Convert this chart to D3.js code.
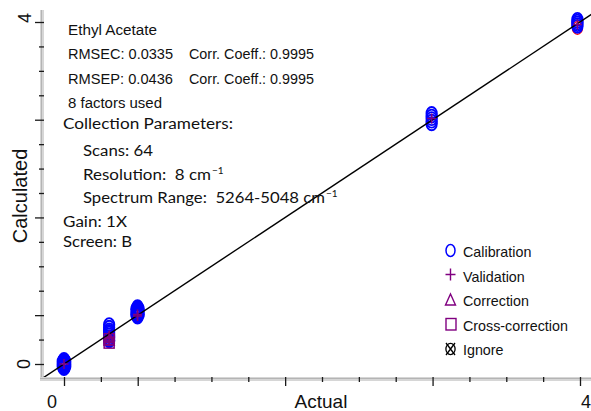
<!DOCTYPE html>
<html>
<head>
<meta charset="utf-8">
<script src="https://cdn.jsdelivr.net/npm/d3@7/dist/d3.min.js"></script>
<style>
  html, body { margin: 0; padding: 0; background: #fff; }
  svg { display: block; }
  text { white-space: pre; }
</style>
</head>
<body>
<svg id="chart" width="591" height="411"></svg>
<script>
// Ethyl Acetate calibration: actual vs calculated concentration
const axisDomain = [0, 4];
const axisTickLabels = ["0", "4"];
const minorTickCount = 14;            // divisions between 0 and 4
const majorTickIndex = [0, 2, 6, 10, 14];

// Calibration samples (blue circles)
const calActual = [
  0, 0, 0, 0, 0, 0, 0, 0, 0, 0, 0, 0, 0, 0.01, -0.01, 0.01, -0.01, 0.01, -0.01,
  0.35, 0.35, 0.35, 0.35, 0.35, 0.35, 0.35, 0.35, 0.35, 0.35,
  0.57, 0.57, 0.57, 0.57, 0.57, 0.57, 0.57, 0.57, 0.57, 0.57, 0.57, 0.57, 0.57, 0.58, 0.56, 0.58, 0.56,
  2.85, 2.85, 2.85, 2.85, 2.85,
  3.98, 3.98, 3.98, 3.98, 3.98
];
const calCalculated = [
  -0.055, -0.045, -0.035, -0.025, -0.015, -0.005, 0.005, 0.015, 0.025, 0.035, 0.045, 0.055, 0.0, -0.03, -0.03, 0.03, 0.03, 0.0, 0.0,
  0.46, 0.43, 0.40, 0.38, 0.36, 0.34, 0.32, 0.30, 0.28, 0.27,
  0.55, 0.56, 0.57, 0.58, 0.59, 0.60, 0.61, 0.62, 0.63, 0.64, 0.65, 0.66, 0.67, 0.58, 0.58, 0.64, 0.64,
  2.81, 2.84, 2.87, 2.90, 2.93,
  3.95, 3.97, 3.99, 4.01, 4.03
];
// Highlighted samples (red circles)
const redActual = [3.98];
const redCalculated = [3.93];
// Validation samples (purple plus)
const valActual = [0, 0.35, 0.35, 0.57, 0.57, 2.85, 3.98];
const valCalculated = [0.0, 0.30, 0.27, 0.58, 0.56, 2.87, 3.97];
// Correction samples (purple triangles)
const corActual = [0.35, 0.35];
const corCalculated = [0.28, 0.31];
// Cross-correction samples (purple squares)
const xcorActual = [0.35, 0.35];
const xcorCalculated = [0.25, 0.29];

const legendItems = ["Calibration", "Validation", "Correction", "Cross-correction", "Ignore"];
const statLines = ["Ethyl Acetate", "RMSEC: 0.0335", "RMSEP: 0.0436", "8 factors used"];
const coeffLines = ["Corr. Coeff.: 0.9995", "Corr. Coeff.: 0.9995"];

const BLUE = "#0000ff", PURPLE = "#800080", RED = "#ff0000";

const svg = d3.select("#chart");
const x = d3.scaleLinear().domain(axisDomain).range([64, 580]);
const y = d3.scaleLinear().domain(axisDomain).range([364, 22]);

const allTicks = d3.range(minorTickCount + 1).map(i => axisDomain[0] + i * (axisDomain[1] - axisDomain[0]) / minorTickCount);
const majorTicks = majorTickIndex.map(i => allTicks[i]);
const minorTicks = allTicks.filter((t, i) => !majorTickIndex.includes(i));

// axis bars
svg.append("rect").attr("x", 40).attr("y", 10).attr("width", 4).attr("height", 371).attr("fill", "#d6d6d6");
svg.append("line").attr("x1", 41.5).attr("x2", 41.5).attr("y1", 10).attr("y2", 380).attr("stroke", "#b4b4b4").attr("stroke-width", 1);
svg.append("rect").attr("x", 40).attr("y", 377).attr("width", 551).attr("height", 4).attr("fill", "#d6d6d6");
svg.append("line").attr("x1", 40).attr("x2", 591).attr("y1", 378.5).attr("y2", 378.5).attr("stroke", "#b4b4b4").attr("stroke-width", 1);

function styleAxis(g) {
  g.select(".domain").remove();
  g.selectAll(".tick text").remove();
  g.selectAll(".tick line").attr("stroke", "#1a1a1a").attr("stroke-width", 1.3);
}
svg.append("g").attr("transform", "translate(44,0)")
  .call(d3.axisLeft(y).tickValues(majorTicks).tickSize(9)).call(styleAxis);
svg.append("g").attr("transform", "translate(44,0)")
  .call(d3.axisLeft(y).tickValues(minorTicks).tickSize(5)).call(styleAxis);
svg.append("g").attr("transform", "translate(0,377)")
  .call(d3.axisBottom(x).tickValues(majorTicks).tickSize(9)).call(styleAxis);
svg.append("g").attr("transform", "translate(0,377)")
  .call(d3.axisBottom(x).tickValues(minorTicks).tickSize(5)).call(styleAxis);

// tick labels at the ends of each axis
const tickFont = "'Liberation Sans', Arial, sans-serif";
svg.append("text").text(axisTickLabels[0]).attr("x", x(axisDomain[0]) - 7).attr("y", 408)
  .attr("text-anchor", "end").attr("font-family", tickFont).attr("font-size", 18).attr("fill", "#111");
svg.append("text").text(axisTickLabels[1]).attr("x", 591).attr("y", 408)
  .attr("text-anchor", "end").attr("font-family", tickFont).attr("font-size", 18).attr("fill", "#111");
svg.append("text").text(axisTickLabels[0])
  .attr("transform", `translate(30,${y(axisDomain[0])}) rotate(-90)`)
  .attr("text-anchor", "middle").attr("font-family", tickFont).attr("font-size", 18).attr("fill", "#111");
svg.append("text").text(axisTickLabels[1])
  .attr("transform", `translate(31,${y(axisDomain[1]) + 1}) rotate(-90)`)
  .attr("text-anchor", "start").attr("font-family", tickFont).attr("font-size", 18).attr("fill", "#111");

// axis titles
svg.append("text").text("Actual").attr("x", 321).attr("y", 408).attr("text-anchor", "middle")
  .attr("font-family", tickFont).attr("font-size", 19).attr("fill", "#111");
svg.append("text").text("Calculated")
  .attr("transform", "translate(27,196) rotate(-90)")
  .attr("text-anchor", "middle").attr("font-family", tickFont).attr("font-size", 20).attr("fill", "#111");

// plot area clip for the 1:1 line
svg.append("clipPath").attr("id", "plotClip")
  .append("rect").attr("x", 40).attr("y", 0).attr("width", 551).attr("height", 377);

const plot = svg.append("g");

function zip(a, b) { return a.map((v, i) => ({ a: v, c: b[i] })); }

// highlighted circles underneath the calibration set
plot.selectAll("ellipse.red").data(zip(redActual, redCalculated)).join("ellipse")
  .attr("class", "red")
  .attr("cx", d => x(d.a)).attr("cy", d => y(d.c))
  .attr("rx", 5).attr("ry", 6.3)
  .attr("fill", "none").attr("stroke", RED).attr("stroke-width", 1.3);
// calibration circles
plot.selectAll("ellipse.cal").data(zip(calActual, calCalculated)).join("ellipse")
  .attr("class", "cal")
  .attr("cx", d => x(d.a)).attr("cy", d => y(d.c))
  .attr("rx", 5.2).attr("ry", 6.5)
  .attr("fill", "none").attr("stroke", BLUE).attr("stroke-width", 1.8);

// cross-correction squares
plot.selectAll("rect.xcor").data(zip(xcorActual, xcorCalculated)).join("rect")
  .attr("class", "xcor")
  .attr("x", d => x(d.a) - 5).attr("y", d => y(d.c) - 5.5)
  .attr("width", 10).attr("height", 11)
  .attr("fill", "none").attr("stroke", PURPLE).attr("stroke-width", 1.5);
// correction triangles
plot.selectAll("path.cor").data(zip(corActual, corCalculated)).join("path")
  .attr("class", "cor")
  .attr("d", d => `M${x(d.a)},${y(d.c) - 6}L${x(d.a) + 5},${y(d.c) + 5}L${x(d.a) - 5},${y(d.c) + 5}Z`)
  .attr("fill", "none").attr("stroke", PURPLE).attr("stroke-width", 1.5);

// 1:1 line
plot.append("line")
  .attr("clip-path", "url(#plotClip)")
  .attr("x1", x(-0.3)).attr("y1", y(-0.3))
  .attr("x2", x(4.2)).attr("y2", y(4.2))
  .attr("stroke", "#000").attr("stroke-width", 1.4);

// validation plus signs
plot.selectAll("path.val").data(zip(valActual, valCalculated)).join("path")
  .attr("class", "val")
  .attr("d", d => `M${x(d.a) - 4.5},${y(d.c)}H${x(d.a) + 4.5}M${x(d.a)},${y(d.c) - 5}V${y(d.c) + 5}`)
  .attr("fill", "none").attr("stroke", PURPLE).attr("stroke-width", 1.5);

// statistics block
const statFont = "'Liberation Sans', Arial, sans-serif";
const statY = [35, 59, 83.5, 108];
const statW = [89, 105, 105, 94];
statLines.forEach((t, i) => {
  svg.append("text").text(t).attr("x", 68).attr("y", statY[i])
    .attr("font-family", statFont).attr("font-size", 14).attr("fill", "#111")
    .attr("textLength", statW[i]).attr("lengthAdjust", "spacingAndGlyphs");
});
coeffLines.forEach((t, i) => {
  svg.append("text").text(t).attr("x", 189).attr("y", statY[i + 1])
    .attr("font-family", statFont).attr("font-size", 14).attr("fill", "#111")
    .attr("textLength", 125).attr("lengthAdjust", "spacingAndGlyphs");
});

// collection parameters block
const paramFont = "Lato, 'Open Sans', sans-serif";
const params = [
  { t: "Collection Parameters:", x: 63, y: 129, w: 170 },
  { t: "Scans: 64", x: 83, y: 156, w: 70 },
  { t: "Resolution:  8 cm", sup: "−1", x: 83, y: 180, w: 128 },
  { t: "Spectrum Range:  5264-5048 cm", sup: "−1", x: 83, y: 203, w: 242 },
  { t: "Gain: 1X", x: 63, y: 226.5, w: 64 },
  { t: "Screen: B", x: 63, y: 247, w: 69 }
];
params.forEach(p => {
  const txt = svg.append("text").attr("x", p.x).attr("y", p.y)
    .attr("font-family", paramFont).attr("font-size", 15.5).attr("fill", "#111");
  txt.append("tspan").text(p.t).attr("textLength", p.w).attr("lengthAdjust", "spacingAndGlyphs");
  if (p.sup) {
    txt.append("tspan").text(p.sup).attr("font-size", 10).attr("dy", -6).attr("dx", 1);
  }
});

// legend
const legX = 450.5, legText = 463;
const legBase = [257, 281.5, 306, 331, 355];
const legendG = svg.append("g");
legendItems.forEach((t, i) => {
  legendG.append("text").text(t).attr("x", legText).attr("y", legBase[i])
    .attr("font-family", statFont).attr("font-size", 14.3).attr("fill", "#111");
});
legendG.append("ellipse").attr("cx", legX).attr("cy", legBase[0] - 6.5).attr("rx", 4.5).attr("ry", 6)
  .attr("fill", "none").attr("stroke", BLUE).attr("stroke-width", 1.5);
legendG.append("path")
  .attr("d", `M${legX - 5},${legBase[1] - 7}H${legX + 5}M${legX},${legBase[1] - 13}V${legBase[1] - 1}`)
  .attr("fill", "none").attr("stroke", PURPLE).attr("stroke-width", 1.4);
legendG.append("path")
  .attr("d", `M${legX},${legBase[2] - 12}L${legX + 5},${legBase[2] - 1}L${legX - 5},${legBase[2] - 1}Z`)
  .attr("fill", "none").attr("stroke", PURPLE).attr("stroke-width", 1.4);
legendG.append("rect").attr("x", legX - 4.5).attr("y", legBase[3] - 12.5).attr("width", 10).attr("height", 11.5)
  .attr("fill", "none").attr("stroke", PURPLE).attr("stroke-width", 1.4);
legendG.append("ellipse").attr("cx", legX).attr("cy", legBase[4] - 6).attr("rx", 4.6).attr("ry", 5.6)
  .attr("fill", "none").attr("stroke", "#000").attr("stroke-width", 1.3);
legendG.append("path")
  .attr("d", `M${legX - 4.5},${legBase[4] - 12}L${legX + 4.5},${legBase[4]}M${legX + 4.5},${legBase[4] - 12}L${legX - 4.5},${legBase[4]}`)
  .attr("fill", "none").attr("stroke", "#000").attr("stroke-width", 1.3);
</script>
</body>
</html>
